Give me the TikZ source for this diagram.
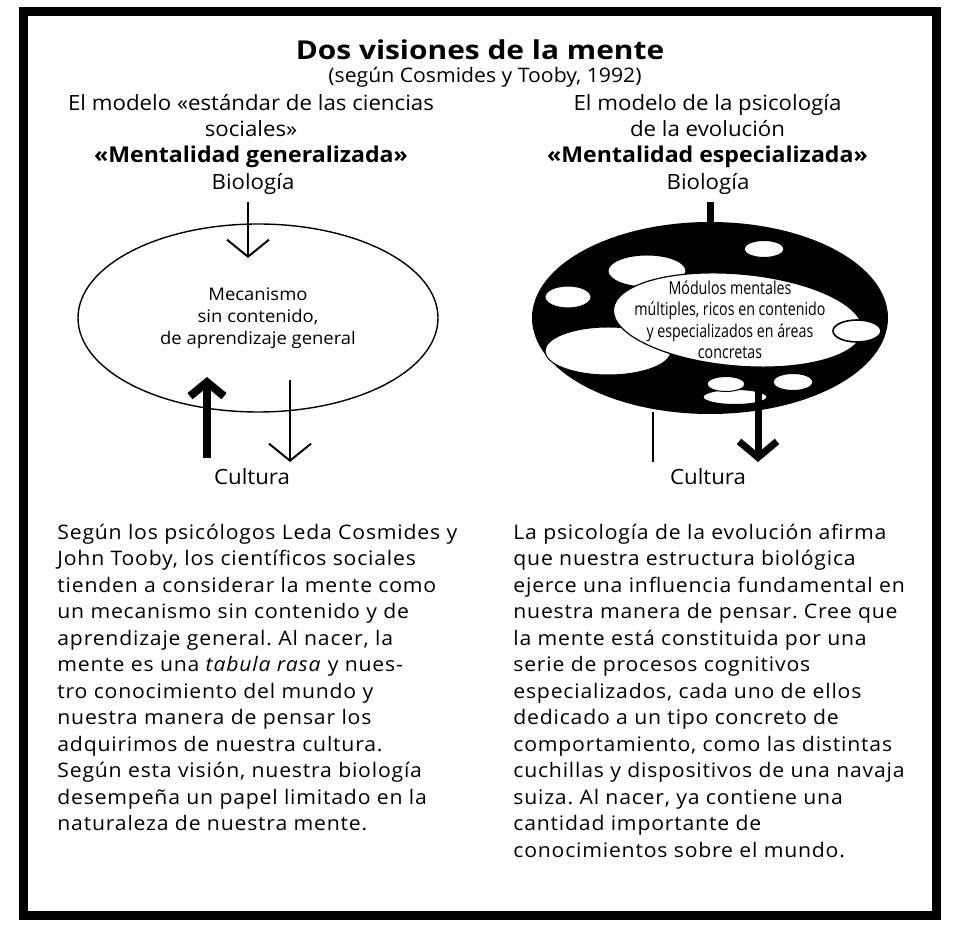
\documentclass[tikz,border=0pt]{standalone}
\usepackage{fontspec}
\setmainfont{Open Sans}
\newfontfamily\titlefont{Open Sans}[FakeStretch=1.15]
\newfontfamily\headfont{Open Sans}[FakeStretch=1.06]
\newfontfamily\bodyfont{Open Sans}[FakeStretch=1.06,LetterSpace=4]
\newfontfamily\condfont{Open Sans}[FakeStretch=0.8]
\usetikzlibrary{arrows.meta,shapes.geometric}

\begin{document}
\begin{tikzpicture}[x=0.5pt, y=-0.5pt,
  heading/.style={font=\headfont\fontsize{10.5}{12}\selectfont, anchor=base},
  boldheading/.style={heading, font=\headfont\bfseries\fontsize{10.9}{12}\selectfont},
  bodytext/.style={font=\bodyfont\fontsize{10}{13.25}\selectfont\frenchspacing, align=left, anchor=north west, inner sep=0pt},
  thinarrow/.style={line width=1pt, -{Straight Barb[length=8.5pt, width=21pt]}},
  thickarrow/.style={line width=4pt, -{Straight Barb[length=7pt, width=17pt]}},
  hole/.style={fill=white, draw=black, line width=0.5pt}]

  % Page and frame
  \useasboundingbox (0,0) rectangle (954,945);
  \draw[line width=4.5pt] (23,12) rectangle (936,916);

  % Title
  \node[heading, font=\titlefont\bfseries\fontsize{13}{15}\selectfont] (title) at (480,60) {Dos visiones de la mente};
  \node[heading, font=\headfont\fontsize{10}{12}\selectfont] (source) at (485,83) {(según Cosmides y Tooby, 1992)};

  % Left: standard social science model
  \node[heading] (stdL) at (251,111) {El modelo «estándar de las ciencias};
  \node[heading] (stdLb) at (251,137) {sociales»};
  \node[boldheading] (mentL) at (251,163) {«Mentalidad generalizada»};
  \node[heading] (bioL) at (253,190) {Biología};

  \node[draw, line width=0.7pt, ellipse, minimum width=180pt, minimum height=94pt,
    font=\headfont\fontsize{8.7}{11}\selectfont, align=center] (mindL) at (258,318)
    {Mecanismo\\sin contenido,\\de aprendizaje general};

  \node[heading] (cultL) at (252,485) {Cultura};

  \coordinate (bioEndL) at (248,258);
  \coordinate (upTipL) at (207,377);
  \coordinate (downStartL) at (290,380);
  \draw[thinarrow] (bioL.south -| bioEndL) -- (bioEndL);
  \draw[thickarrow, shorten <=2pt] (upTipL |- cultL.north) -- (upTipL);
  \draw[thinarrow] (downStartL) -- (downStartL |- cultL.north);

  % Right: evolutionary psychology model
  \node[heading] (evoR) at (707.5,111) {El modelo de la psicología};
  \node[heading] (evoRb) at (707.5,137) {de la evolución};
  \node[boldheading] (mentR) at (707.5,163) {«Mentalidad especializada»};
  \node[heading] (bioR) at (708,190) {Biología};

  \node[ellipse, fill=black, minimum width=178pt, minimum height=96pt] (mindR) at (710,318) {};
  \draw[line width=3.5pt] (bioR.south -| mindR.north) -- (mindR.north);

  % white modules in the dark mind
  \filldraw[hole] (764,249) ellipse [x radius=20, y radius=8.5];
  \filldraw[hole] (647,271) ellipse [x radius=39, y radius=16];
  \filldraw[hole] (568,297) ellipse [x radius=23, y radius=11];
  \filldraw[hole] (608,351) ellipse [x radius=63, y radius=24];
  \filldraw[hole] (793,382) ellipse [x radius=20, y radius=8.5];
  \filldraw[hole] (735,397) ellipse [x radius=32, y radius=7.5];
  \filldraw[hole] (726,384) ellipse [x radius=19, y radius=7.5];
  \filldraw[hole, line width=0.6pt, rotate around={-5:(738,320)}] (738,320) ellipse [x radius=125, y radius=46];
  \filldraw[hole, line width=0.8pt] (857,331) ellipse [x radius=24, y radius=11];

  \node[font=\condfont\fontsize{8.9}{10.75}\selectfont, align=center] (modR) at (730,320)
    {Módulos mentales\\múltiples, ricos en contenido\\y especializados en áreas\\concretas};

  \node[heading] (cultR) at (708,485) {Cultura};

  \coordinate (lineTopR) at (653,412);
  \coordinate (downStartR) at (758,387);
  \draw[line width=1pt] (lineTopR) -- (lineTopR |- cultR.north);
  \draw[thickarrow, line width=3.5pt, -{Straight Barb[length=8pt, width=19pt]}] (downStartR) -- (downStartR |- cultR.north);

  % Texts below
  \node[bodytext] (textL) at (57,520.4) {\strut Según los psicólogos Leda Cosmides y\\
    John Tooby, los científicos sociales\\
    tienden a considerar la mente como\\
    un mecanismo sin contenido y de\\
    aprendizaje general. Al nacer, la\\
    mente es una \textit{tabula rasa} y nues-\\
    tro conocimiento del mundo y\\
    nuestra manera de pensar los\\
    adquirimos de nuestra cultura.\\
    Según esta visión, nuestra biología\\
    desempeña un papel limitado en la\\
    naturaleza de nuestra mente.};

  \node[bodytext] (textR) at (513,520.4) {\strut La psicología de la evolución afirma\\
    que nuestra estructura biológica\\
    ejerce una influencia fundamental en\\
    nuestra manera de pensar. Cree que\\
    la mente está constituida por una\\
    serie de procesos cognitivos\\
    especializados, cada uno de ellos\\
    dedicado a un tipo concreto de\\
    comportamiento, como las distintas\\
    cuchillas y dispositivos de una navaja\\
    suiza. Al nacer, ya contiene una\\
    cantidad importante de\\
    conocimientos sobre el mundo.};
\end{tikzpicture}
\end{document}
